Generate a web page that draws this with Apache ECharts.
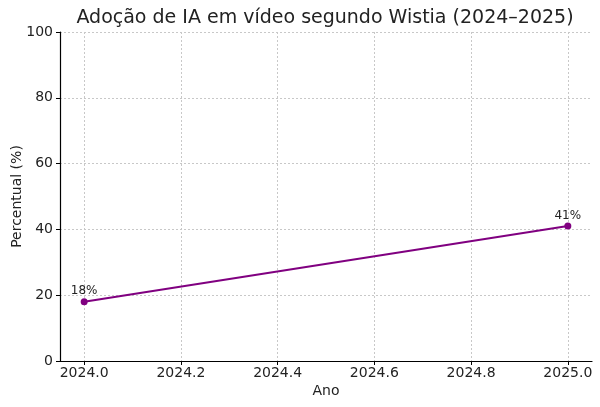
<!DOCTYPE html>
<html>
<head>
<meta charset="utf-8">
<script src="https://cdn.jsdelivr.net/npm/echarts@6/dist/echarts.min.js"></script>
<style>
  html, body { margin: 0; padding: 0; background: #fff; }
  #chart { width: 600px; height: 407px; }
</style>
</head>
<body>
<div id="chart"></div>
<script>
// dados
var anos = [2024, 2025];
var percentuais = [18, 41];
var rotulos = ['18%', '41%'];
var ticksX = [2024.0, 2024.2, 2024.4, 2024.6, 2024.8, 2025.0];

var pontos = [];
for (var i = 0; i < anos.length; i++) {
    pontos.push({ value: [anos[i], percentuais[i]], label: { formatter: rotulos[i] } });
}

var myChart = echarts.init(document.getElementById('chart'));
var fonte = 'DejaVu Sans';
var option = {
    animation: false,
    title: {
        text: 'Adoção de IA em vídeo segundo Wistia (2024–2025)',
        left: 320,
        textAlign: 'center',
        top: 4,
        textStyle: { fontFamily: fonte, fontSize: 19, fontWeight: 'normal', color: '#222' }
    },
    grid: { left: 60, right: 8, top: 32, bottom: 46, outerBoundsMode: 'none' },
    xAxis: {
        type: 'value',
        min: 2023.95,
        max: 2025.05,
        name: 'Ano',
        nameLocation: 'middle',
        nameGap: 23,
        nameMoveOverlap: false,
        nameTextStyle: { fontFamily: fonte, fontSize: 14, color: '#222' },
        axisLine: { show: true, onZero: false, lineStyle: { color: '#000', width: 1.2 } },
        axisTick: { show: true, length: 4, lineStyle: { color: '#000' }, customValues: ticksX },
        axisLabel: {
            fontFamily: fonte, fontSize: 14, color: '#222', margin: 5,
            customValues: ticksX,
            formatter: function (v) { return v.toFixed(1); }
        },
        splitLine: { show: true, lineStyle: { color: '#c8c8c8', type: [2, 2], width: 1 } }
    },
    yAxis: {
        type: 'value',
        min: 0,
        max: 100,
        interval: 20,
        name: 'Percentual (%)',
        nameLocation: 'middle',
        nameGap: 36,
        nameMoveOverlap: false,
        nameTextStyle: { fontFamily: fonte, fontSize: 14, color: '#222' },
        axisLine: { show: true, lineStyle: { color: '#000', width: 1.2 } },
        axisTick: { show: true, length: 4, lineStyle: { color: '#000' } },
        axisLabel: { fontFamily: fonte, fontSize: 14, color: '#222', margin: 7 },
        splitLine: { show: true, lineStyle: { color: '#c8c8c8', type: [2, 2], width: 1 } }
    },
    series: [{
        type: 'line',
        data: pontos,
        symbol: 'circle',
        symbolSize: 7,
        itemStyle: { color: '#800080' },
        lineStyle: { color: '#800080', width: 2 },
        label: {
            show: true,
            position: 'top',
            distance: 1,
            fontFamily: fonte,
            fontSize: 12,
            color: '#222'
        }
    }]
};
myChart.setOption(option);
</script>
</body>
</html>
